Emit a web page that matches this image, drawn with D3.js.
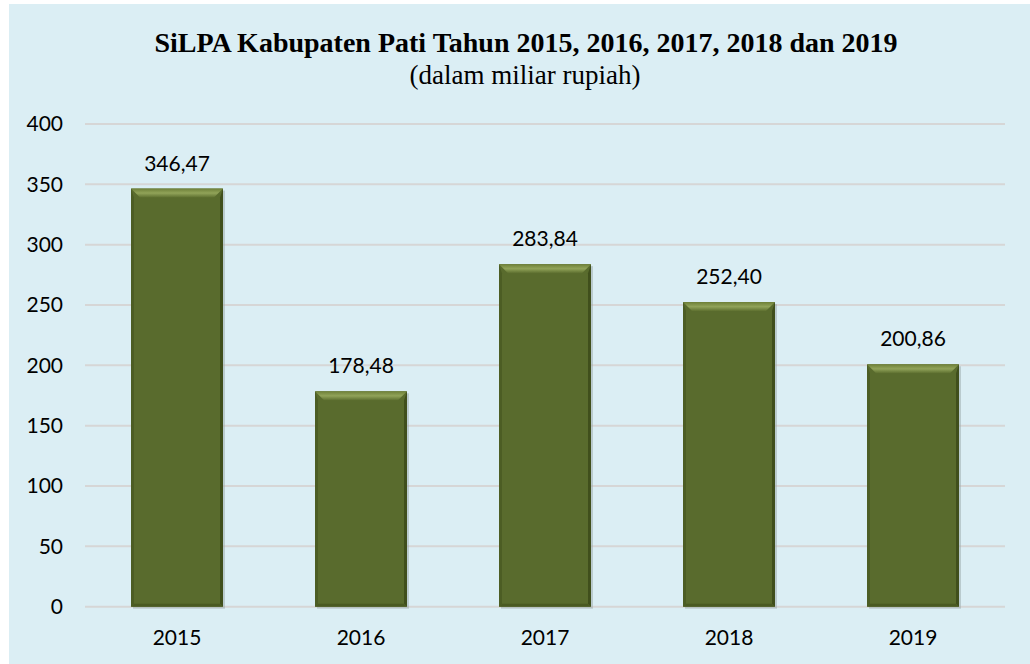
<!DOCTYPE html>
<html>
<head>
<meta charset="utf-8">
<title>SiLPA Kabupaten Pati</title>
<script src="https://cdn.jsdelivr.net/npm/d3@7"></script>
<style>
  body { margin: 0; background: #fff; }
  svg { display: block; }
</style>
</head>
<body>
<script>
// data
var years = ["2015", "2016", "2017", "2018", "2019"];
var silpa = [346.47, 178.48, 283.84, 252.40, 200.86];
var yTicks = [0, 50, 100, 150, 200, 250, 300, 350, 400];

var width = 1030, height = 664;
var margin = {top: 124, right: 25, bottom: 57, left: 85};
var labelFont = "Lato, 'Open Sans', sans-serif";
var titleFont = "'Liberation Serif', 'Times New Roman', serif";

var svg = d3.select("body").append("svg")
    .attr("width", width)
    .attr("height", height);

// light blue panel
svg.append("rect")
    .attr("x", 9).attr("y", 4)
    .attr("width", width - 9).attr("height", height - 4)
    .attr("fill", "#dbeef4");

var x = d3.scaleBand()
    .domain(years)
    .range([margin.left, width - margin.right])
    .paddingInner(0.5)
    .paddingOuter(0.25);

var y = d3.scaleLinear()
    .domain([0, 400])
    .range([height - margin.bottom - 0.3, margin.top]);

// gridlines
svg.append("g")
    .selectAll("line")
    .data(yTicks)
    .join("line")
    .attr("x1", margin.left).attr("x2", width - margin.right)
    .attr("y1", function(d) { return y(d); })
    .attr("y2", function(d) { return y(d); })
    .attr("stroke", "#d6d6d6")
    .attr("stroke-width", 2);

// y axis labels
var yAxis = svg.append("g")
    .attr("transform", "translate(" + (margin.left - 22) + ",0)")
    .call(d3.axisLeft(y).tickValues(yTicks).tickSize(0).tickPadding(0));
yAxis.select(".domain").remove();
yAxis.selectAll("text")
    .attr("font-family", labelFont)
    .attr("font-size", 21)
    .attr("fill", "#000");

// x axis labels
var xAxis = svg.append("g")
    .attr("transform", "translate(0," + y(0) + ")")
    .call(d3.axisBottom(x).tickSize(0).tickPadding(23));
xAxis.select(".domain").remove();
xAxis.selectAll("text")
    .attr("font-family", labelFont)
    .attr("font-size", 21)
    .attr("fill", "#000");

// bevel gradient for the top face
var defs = svg.append("defs");
var topGrad = defs.append("linearGradient")
    .attr("id", "topGrad").attr("x1", 0).attr("y1", 0).attr("x2", 0).attr("y2", 1);
topGrad.append("stop").attr("offset", "0%").attr("stop-color", "#6e8038");
topGrad.append("stop").attr("offset", "50%").attr("stop-color", "#91a359");
topGrad.append("stop").attr("offset", "100%").attr("stop-color", "#5d6f2f");

var bars = svg.append("g").selectAll("g")
    .data(years)
    .join("g");

var bev = 9;

// shadow
bars.append("rect")
    .attr("x", function(d) { return x(d) + 2; })
    .attr("y", function(d, i) { return y(silpa[i]) + 2; })
    .attr("width", x.bandwidth())
    .attr("height", function(d, i) { return y(0) - y(silpa[i]); })
    .attr("fill", "#9aa8a8")
    .attr("opacity", 0.5);

// bar body
bars.append("rect")
    .attr("x", function(d) { return x(d); })
    .attr("y", function(d, i) { return y(silpa[i]); })
    .attr("width", x.bandwidth())
    .attr("height", function(d, i) { return y(0) - y(silpa[i]); })
    .attr("fill", "#596b2d");

// right dark edge
bars.append("path")
    .attr("d", function(d, i) {
        var x0 = x(d), x1 = x0 + x.bandwidth(), t = y(silpa[i]), b = y(0);
        return "M" + x1 + "," + t + "L" + (x1 - 3) + "," + (t + bev) +
               "L" + (x1 - 3) + "," + (b - 3) + "L" + x1 + "," + b + "Z";
    })
    .attr("fill", "#404f1c");

// left edge
bars.append("path")
    .attr("d", function(d, i) {
        var x0 = x(d), t = y(silpa[i]), b = y(0);
        return "M" + x0 + "," + t + "L" + (x0 + 3) + "," + (t + bev) +
               "L" + (x0 + 3) + "," + (b - 3) + "L" + x0 + "," + b + "Z";
    })
    .attr("fill", "#4c5d24");

// bottom edge
bars.append("path")
    .attr("d", function(d, i) {
        var x0 = x(d), x1 = x0 + x.bandwidth(), b = y(0);
        return "M" + x0 + "," + b + "L" + (x0 + 3) + "," + (b - 3) +
               "L" + (x1 - 3) + "," + (b - 3) + "L" + x1 + "," + b + "Z";
    })
    .attr("fill", "#4a5a22");

// top bevel
bars.append("path")
    .attr("d", function(d, i) {
        var x0 = x(d), x1 = x0 + x.bandwidth(), t = y(silpa[i]);
        return "M" + x0 + "," + t + "L" + x1 + "," + t +
               "L" + (x1 - bev) + "," + (t + bev) + "L" + (x0 + bev) + "," + (t + bev) + "Z";
    })
    .attr("fill", "url(#topGrad)");

// value labels
bars.append("text")
    .attr("x", function(d) { return x(d) + x.bandwidth() / 2; })
    .attr("y", function(d, i) { return y(silpa[i]) - 18; })
    .attr("text-anchor", "middle")
    .attr("font-family", labelFont)
    .attr("font-size", 21)
    .attr("fill", "#000")
    .text(function(d, i) { return silpa[i].toFixed(2).replace(".", ","); });

// title
svg.append("text")
    .attr("x", 526).attr("y", 52)
    .attr("text-anchor", "middle")
    .attr("font-family", titleFont)
    .attr("font-weight", "bold")
    .attr("font-size", 28)
    .text("SiLPA Kabupaten Pati Tahun 2015, 2016, 2017, 2018 dan 2019");

svg.append("text")
    .attr("x", 525).attr("y", 84)
    .attr("text-anchor", "middle")
    .attr("font-family", titleFont)
    .attr("font-size", 27)
    .text("(dalam miliar rupiah)");
</script>
</body>
</html>
